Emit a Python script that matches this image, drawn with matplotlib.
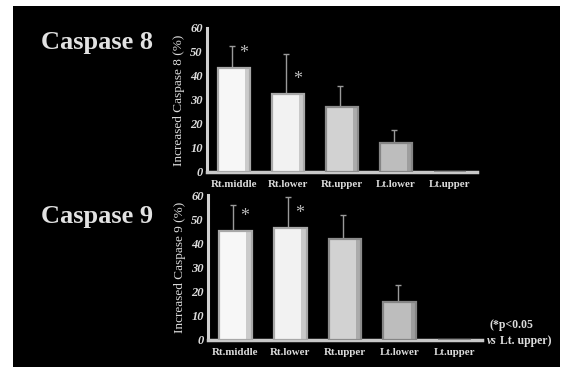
import matplotlib
matplotlib.use("Agg")
import matplotlib.pyplot as plt
from matplotlib.patches import Rectangle
import numpy as np

categories = ["Rt.middle", "Rt.lower", "Rt.upper", "Lt.lower", "Lt.upper"]
casp8_mean = [43.2, 32.5, 27.2, 12.0, 0.0]
casp8_err = [9.3, 16.5, 8.6, 5.5, 0.0]
casp9_mean = [45.2, 46.3, 42.0, 15.8, 0.0]
casp9_err = [10.5, 13.0, 9.7, 6.8, 0.0]
sig8 = [True, True, False, False, False]
sig9 = [True, True, False, False, False]
yticks = [0, 10, 20, 30, 40, 50, 60]

bar_colors = ["#f7f7f7", "#f2f2f2", "#d2d2d2", "#bdbdbd", "#8a8a8a"]
edge_colors = ["#a8a8a8", "#a8a8a8", "#8c8c8c", "#858585", "#8a8a8a"]
fg = "#dcdcdc"
serif = ["Liberation Serif", "DejaVu Serif"]

fig = plt.figure(figsize=(5.62, 3.67), dpi=100)
fig.patch.set_facecolor("white")
fig.patches.append(Rectangle((13 / 562, 0), (560 - 13) / 562, (367 - 6) / 367,
                             transform=fig.transFigure, facecolor="black",
                             edgecolor="none", zorder=-10))


def panel(rect, means, errs, sig, ylab, title, title_y):
    ax = fig.add_axes(rect)
    ax.set_zorder(5)
    ax.set_facecolor("none")
    x = np.arange(len(categories))
    lower = np.zeros(len(errs))
    ax.errorbar(x - 0.04, means, yerr=[lower, errs], fmt="none", ecolor="#9a9a9a",
                elinewidth=1.0, capsize=2, capthick=1.0, zorder=2)
    ax.bar(x, means, width=0.6, color=bar_colors, edgecolor=edge_colors,
           linewidth=1.6, zorder=3)
    # darker right-side shading strip
    ax.bar(x + 0.25, means, width=0.1, color=edge_colors, edgecolor="none",
           alpha=0.55, zorder=4)
    for xi, m, s in zip(x, means, sig):
        if s:
            ax.text(xi + 0.17, m + 6.0, "*", color="#bbbbbb", fontsize=13,
                    family=serif, ha="center", va="center", zorder=5)
    ax.set_xlim(-0.5, 4.5)
    ax.set_ylim(0, 60)
    ax.set_yticks(yticks)
    ax.set_yticklabels([str(t) for t in yticks], fontsize=9, family=serif,
                       fontweight="bold", style="italic", color=fg)
    ax.set_xticks(x)
    ax.set_xticklabels(categories, fontsize=7.8, family=serif,
                       fontweight="bold", color=fg)
    ax.tick_params(axis="x", length=0, pad=6)
    ax.tick_params(axis="y", length=0, pad=3)
    for s in ["top", "right"]:
        ax.spines[s].set_visible(False)
    ax.spines["left"].set_color("#d0d0d0")
    ax.spines["left"].set_linewidth(2.2)
    ax.spines["bottom"].set_color("#c8c8c8")
    ax.spines["bottom"].set_linewidth(2.5)
    ax.set_ylabel(ylab, fontsize=9.5, family=serif, color=fg, labelpad=4)
    fig.text(97 / 562, title_y, title, fontsize=19, family=serif,
             fontweight="bold", color="#e2e2e2", ha="center", va="center")
    return ax


panel([207 / 562, 1 - 172 / 367, 270 / 562, 144 / 367], casp8_mean, casp8_err,
      sig8, "Increased Caspase 8 (%)", "Caspase 8", 1 - 42 / 367)
ax2 = panel([208 / 562, 1 - 340 / 367, 274 / 562, 145 / 367], casp9_mean, casp9_err,
            sig9, "Increased Caspase 9 (%)", "Caspase 9", 1 - 216 / 367)

fig.text(490 / 562, 1 - 325 / 367, "(*p<0.05", fontsize=8.5, family=serif,
         fontweight="bold", color=fg, ha="left", va="center")
vs = fig.text(487 / 562, 1 - 341 / 367, "vs", fontsize=8.5, family=serif,
              fontweight="bold", style="italic", color=fg, ha="left", va="center")
ax2.annotate(" Lt. upper)", xy=(1, 0.5), xycoords=vs, fontsize=8.5,
             family=serif, fontweight="bold", color=fg,
             ha="left", va="center", annotation_clip=False)

fig.savefig("out.png", dpi=100, facecolor=fig.get_facecolor())
